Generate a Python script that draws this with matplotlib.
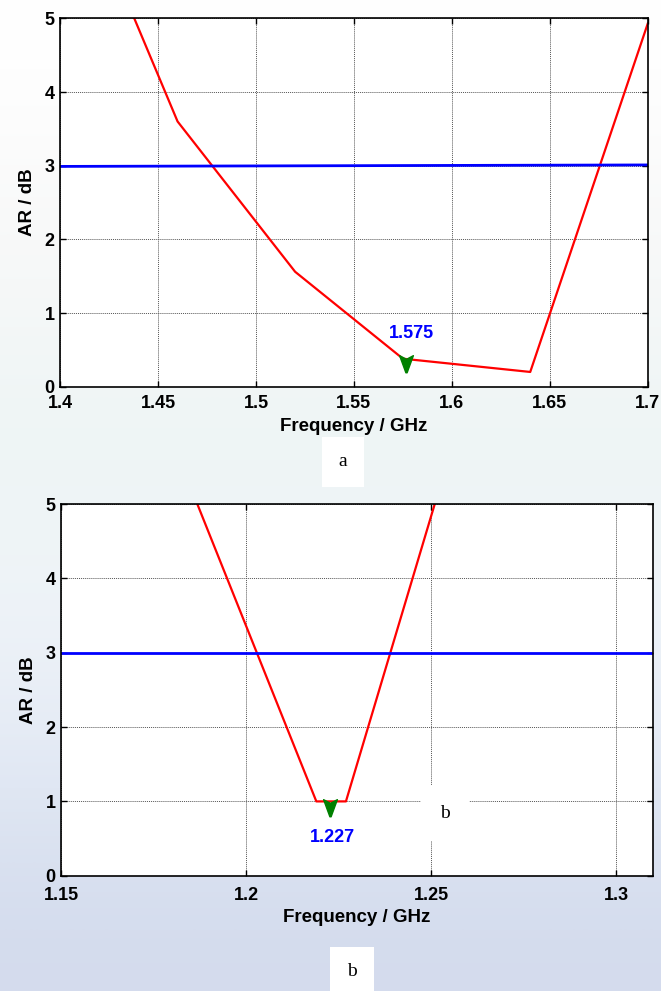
import numpy as np
import matplotlib.pyplot as plt
from matplotlib.path import Path

# panel a (L1 band)
freq_a = [1.40, 1.46, 1.52, 1.575, 1.64, 1.70]
ar_a = [7.4, 3.6, 1.56, 0.38, 0.20, 4.93]
ref_a_x = [1.40, 1.70]
ref_a_y = [2.99, 3.01]
mark_a = (1.5765, 0.40)
label_a = "1.575"

# panel b (L2 band)
freq_b = [1.18, 1.219, 1.227, 1.26]
ar_b = [5.85, 1.0, 1.0, 6.5]
ref_b_x = [1.15, 1.31]
ref_b_y = [3.0, 3.0]
mark_b = (1.2227, 1.0)
label_b = "1.227"

plt.rcParams['font.family'] = ['Liberation Sans', 'DejaVu Sans']

fig = plt.figure(figsize=(6.61, 9.91), dpi=100)

# faint watermark-like background (bottom row first)
bg = fig.add_axes([0, 0, 1, 1], zorder=-10)
grad = np.array([[0.83, 0.86, 0.93], [0.87, 0.90, 0.95], [0.92, 0.94, 0.97],
                 [0.94, 0.96, 0.97], [0.93, 0.96, 0.96], [0.96, 0.97, 0.97],
                 [0.98, 0.98, 0.98], [1.0, 1.0, 1.0]])
bg.imshow(grad[:, None, :], aspect='auto', extent=[0, 1, 0, 1], origin='lower',
          interpolation='bicubic')
bg.set_axis_off()

# marker: down chevron with its top at the data point
verts = [(-0.45, 0.12), (0, -0.12), (0.45, 0.12), (0.04, -1.0), (-0.04, -1.0), (-0.45, 0.12)]
chev = Path(verts, closed=True)


def style(ax, xlim, xticks, xlabels, xpad=6):
    ax.set_xlim(*xlim)
    ax.set_ylim(0, 5)
    ax.set_xticks(xticks)
    ax.set_xticklabels(xlabels)
    ax.set_yticks([0, 1, 2, 3, 4, 5])
    ax.tick_params(direction='in', length=4, width=1, top=True, right=True,
                   labelsize=13, pad=xpad)
    ax.tick_params(axis='y', pad=4)
    for lab in ax.get_xticklabels() + ax.get_yticklabels():
        lab.set_fontweight('bold')
    ax.grid(True, color='#555555', linestyle=(0, (1, 1)), linewidth=0.7)
    for s in ax.spines.values():
        s.set_linewidth(1.2)
    ax.set_xlabel('Frequency / GHz', fontsize=13.5, fontweight='bold', labelpad=4)
    ax.set_ylabel('AR / dB', fontsize=13.5, fontweight='bold', labelpad=6)
    ax.set_facecolor('white')


ax1 = fig.add_axes([0.0908, 0.6098, 0.8892, 0.3717])
ax1.plot(freq_a, ar_a, color='red', linewidth=1.6)
ax1.plot(ref_a_x, ref_a_y, color='blue', linewidth=2.0)
ax1.plot(*mark_a, marker=chev, markersize=22, color='green', linestyle='none', zorder=5)
ax1.text(1.5795, 0.72, label_a, color='blue', fontsize=13, fontweight='bold',
         ha='center', va='center')
style(ax1, (1.4, 1.7), [1.4, 1.45, 1.5, 1.55, 1.6, 1.65, 1.7],
      ['1.4', '1.45', '1.5', '1.55', '1.6', '1.65', '1.7'])

ax2 = fig.add_axes([0.0923, 0.1163, 0.8957, 0.3751])
ax2.plot(freq_b, ar_b, color='red', linewidth=1.6)
ax2.plot(ref_b_x, ref_b_y, color='blue', linewidth=2.0)
ax2.plot(*mark_b, marker=chev, markersize=22, color='green', linestyle='none', zorder=5)
ax2.text(1.2233, 0.52, label_b, color='blue', fontsize=13, fontweight='bold',
         ha='center', va='center')
ax2.text(1.2538, 0.84, 'b', fontsize=14, family='Liberation Serif', ha='center', va='center',
         zorder=6, bbox=dict(facecolor='white', edgecolor='none', pad=14))
style(ax2, (1.15, 1.31), [1.15, 1.2, 1.25, 1.3], ['1.15', '1.2', '1.25', '1.3'], xpad=8)

# captions
fig.text(343 / 661, 1 - 462 / 991, 'a', fontsize=14, family='Liberation Serif',
         ha='center', va='center', bbox=dict(facecolor='white', edgecolor='none', pad=12))
fig.text(352 / 661, 1 - 972 / 991, 'b', fontsize=14, family='Liberation Serif',
         ha='center', va='center', bbox=dict(facecolor='white', edgecolor='none', pad=12))

fig.savefig('out.png', dpi=100)
